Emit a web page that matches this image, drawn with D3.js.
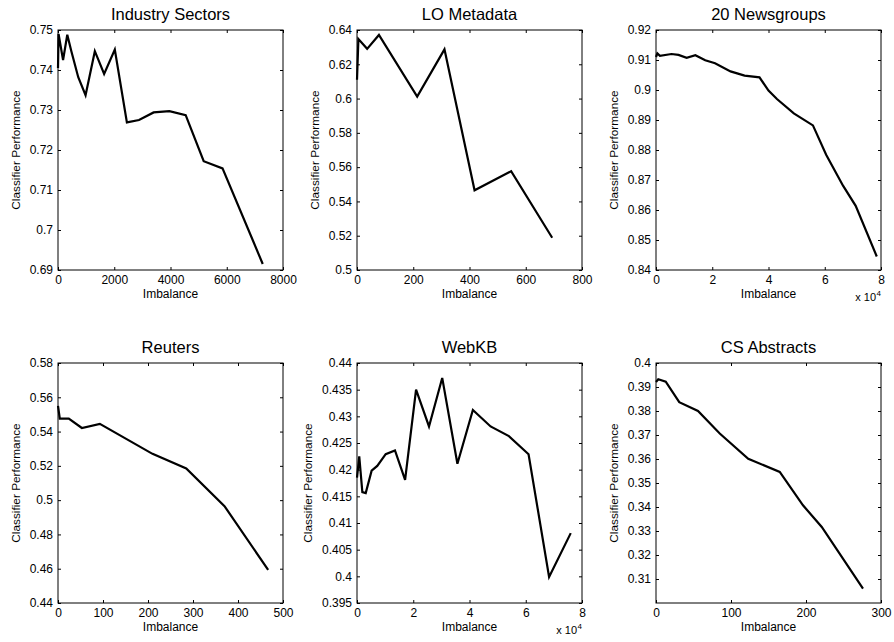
<!DOCTYPE html>
<html>
<head>
<meta charset="utf-8">
<script src="https://cdn.jsdelivr.net/npm/d3@7"></script>
<style>
  body { margin: 0; background: #fff; }
  svg text { font-family: "Liberation Sans", Arial, Helvetica, sans-serif; fill: #000; }
</style>
</head>
<body>
<svg id="chart" width="894" height="642"></svg>
<script>
// ---- data ----
const industryX = [0, 20, 180, 330, 470, 720, 980, 1310, 1640, 2020, 2450, 2880, 3400, 3960, 4540, 5180, 5850, 7280];
const industryY = [0.7405, 0.7490, 0.7425, 0.7488, 0.7448, 0.7382, 0.7337, 0.7447, 0.7390, 0.7451, 0.7269, 0.7275, 0.7294, 0.7297, 0.7287, 0.7172, 0.7154, 0.6915];

const loX = [0, 5, 36, 78, 214, 311, 418, 548, 694];
const loY = [0.611, 0.6347, 0.6290, 0.6371, 0.6012, 0.6287, 0.5465, 0.5576, 0.5188];

const newsX = [0, 500, 1400, 5500, 8000, 10900, 14000, 17500, 21000, 26500, 31500, 36800, 40000, 43000, 49000, 55800, 60500, 66500, 71000, 78500];
const newsY = [0.9110, 0.9122, 0.9114, 0.9120, 0.9117, 0.9107, 0.9116, 0.9099, 0.9089, 0.9062, 0.9048, 0.9042, 0.8998, 0.8970, 0.8922, 0.8882, 0.8784, 0.8681, 0.8614, 0.8445];

const reutersX = [0, 4, 24, 53, 93, 210, 285, 370, 467];
const reutersY = [0.555, 0.5475, 0.5475, 0.5421, 0.5445, 0.5270, 0.5185, 0.4965, 0.4593];

const webkbX = [0, 800, 1900, 3100, 5200, 7200, 10200, 13500, 17100, 21000, 25600, 30300, 35700, 41200, 47500, 54000, 61000, 68300, 76000];
const webkbY = [0.4185, 0.4225, 0.4158, 0.4156, 0.4198, 0.4207, 0.4229, 0.4236, 0.4181, 0.4350, 0.4281, 0.4372, 0.4211, 0.4312, 0.4281, 0.4263, 0.4229, 0.3999, 0.4081];

const csX = [0, 3, 13, 31, 56, 85, 123, 165, 196, 221, 276];
const csY = [0.3921, 0.3932, 0.3922, 0.3837, 0.3800, 0.3706, 0.3601, 0.3546, 0.3407, 0.3317, 0.3060];

// ---- ticks ----
const industryXTicks = [0, 2000, 4000, 6000, 8000];
const industryYTicks = [0.69, 0.70, 0.71, 0.72, 0.73, 0.74, 0.75];
const industryYLabels = ["0.69", "0.7", "0.71", "0.72", "0.73", "0.74", "0.75"];

const loXTicks = [0, 200, 400, 600, 800];
const loYTicks = [0.50, 0.52, 0.54, 0.56, 0.58, 0.60, 0.62, 0.64];
const loYLabels = ["0.5", "0.52", "0.54", "0.56", "0.58", "0.6", "0.62", "0.64"];

const newsXTicks = [0, 20000, 40000, 60000, 80000];
const newsXLabels = ["0", "2", "4", "6", "8"];
const newsYTicks = [0.84, 0.85, 0.86, 0.87, 0.88, 0.89, 0.90, 0.91, 0.92];
const newsYLabels = ["0.84", "0.85", "0.86", "0.87", "0.88", "0.89", "0.9", "0.91", "0.92"];

const reutersXTicks = [0, 100, 200, 300, 400, 500];
const reutersYTicks = [0.44, 0.46, 0.48, 0.50, 0.52, 0.54, 0.56, 0.58];
const reutersYLabels = ["0.44", "0.46", "0.48", "0.5", "0.52", "0.54", "0.56", "0.58"];

const webkbXTicks = [0, 20000, 40000, 60000, 80000];
const webkbXLabels = ["0", "2", "4", "6", "8"];
const webkbYTicks = [0.395, 0.400, 0.405, 0.410, 0.415, 0.420, 0.425, 0.430, 0.435, 0.440];
const webkbYLabels = ["0.395", "0.4", "0.405", "0.41", "0.415", "0.42", "0.425", "0.43", "0.435", "0.44"];

const csXTicks = [0, 100, 200, 300];
const csYTicks = [0.31, 0.32, 0.33, 0.34, 0.35, 0.36, 0.37, 0.38, 0.39, 0.40];
const csYLabels = ["0.31", "0.32", "0.33", "0.34", "0.35", "0.36", "0.37", "0.38", "0.39", "0.4"];

const panels = [
  { title: "Industry Sectors", xs: industryX, ys: industryY, xDomain: [0, 8000], yDomain: [0.69, 0.75],
    xTicks: industryXTicks, xLabels: industryXTicks.map(String), yTicks: industryYTicks, yLabels: industryYLabels },
  { title: "LO Metadata", xs: loX, ys: loY, xDomain: [0, 800], yDomain: [0.5, 0.64],
    xTicks: loXTicks, xLabels: loXTicks.map(String), yTicks: loYTicks, yLabels: loYLabels },
  { title: "20 Newsgroups", xs: newsX, ys: newsY, xDomain: [0, 80000], yDomain: [0.84, 0.92],
    xTicks: newsXTicks, xLabels: newsXLabels, yTicks: newsYTicks, yLabels: newsYLabels, exp: true },
  { title: "Reuters", xs: reutersX, ys: reutersY, xDomain: [0, 500], yDomain: [0.44, 0.58],
    xTicks: reutersXTicks, xLabels: reutersXTicks.map(String), yTicks: reutersYTicks, yLabels: reutersYLabels },
  { title: "WebKB", xs: webkbX, ys: webkbY, xDomain: [0, 80000], yDomain: [0.395, 0.44],
    xTicks: webkbXTicks, xLabels: webkbXLabels, yTicks: webkbYTicks, yLabels: webkbYLabels, exp: true },
  { title: "CS Abstracts", xs: csX, ys: csY, xDomain: [0, 300], yDomain: [0.3, 0.4],
    xTicks: csXTicks, xLabels: csXTicks.map(String), yTicks: csYTicks, yLabels: csYLabels }
];

// ---- layout ----
const colLeft = [58, 357, 656];
const rowTop = [30, 363];
const W = 225, H = 240;
const tickLen = 3;

const svg = d3.select("#chart");

function styleAxis(sel, size) {
  sel.select(".domain").remove();
  sel.attr("font-family", null).attr("font-size", null);
  sel.selectAll("line").attr("stroke", "#000");
  sel.selectAll("text").style("font-size", size + "px");
}

panels.forEach((p, i) => {
  const left = colLeft[i % 3];
  const top = rowTop[Math.floor(i / 3)];
  const g = svg.append("g").attr("transform", `translate(${left},${top})`);

  const x = d3.scaleLinear().domain(p.xDomain).range([0, W]);
  const y = d3.scaleLinear().domain(p.yDomain).range([H, 0]);

  // bottom + left axes with labels, inward ticks
  g.append("g").attr("transform", `translate(0,${H})`)
    .call(d3.axisBottom(x).tickValues(p.xTicks).tickFormat((d, k) => p.xLabels[k])
      .tickSizeInner(-tickLen).tickSizeOuter(0).tickPadding(5))
    .call(s => styleAxis(s, 12));

  const yAxis = g.append("g")
    .call(d3.axisLeft(y).tickValues(p.yTicks).tickFormat((d, k) => p.yLabels[k])
      .tickSizeInner(-tickLen).tickSizeOuter(0).tickPadding(5))
    .call(s => styleAxis(s, 12));

  // top + right ticks only
  g.append("g")
    .call(d3.axisTop(x).tickValues(p.xTicks).tickFormat("").tickSizeInner(-tickLen).tickSizeOuter(0))
    .call(s => styleAxis(s, 12));
  g.append("g").attr("transform", `translate(${W},0)`)
    .call(d3.axisRight(y).tickValues(p.yTicks).tickFormat("").tickSizeInner(-tickLen).tickSizeOuter(0))
    .call(s => styleAxis(s, 12));

  // box
  g.append("rect").attr("x", 0).attr("y", 0).attr("width", W).attr("height", H)
    .attr("fill", "none").attr("stroke", "#000").attr("stroke-width", 1);

  // series
  const line = d3.line().x(k => x(p.xs[k])).y(k => y(p.ys[k]));
  g.append("path").datum(d3.range(p.xs.length)).attr("d", line)
    .attr("fill", "none").attr("stroke", "#000").attr("stroke-width", 2.2)
    .attr("stroke-linejoin", "miter").attr("stroke-miterlimit", 4);

  // title
  g.append("text").attr("x", W / 2).attr("y", -10).attr("text-anchor", "middle")
    .style("font-size", "16.5px").text(p.title);

  // x label
  g.append("text").attr("x", W / 2).attr("y", H + 28).attr("text-anchor", "middle")
    .style("font-size", "12px").text("Imbalance");

  // y label, placed left of the widest tick label
  let minX = 0;
  yAxis.selectAll("text").each(function () {
    const b = this.getBBox();
    minX = Math.min(minX, b.x - 5);
  });
  g.append("text").attr("transform", `translate(${minX - 4.5},${H / 2}) rotate(-90)`)
    .attr("text-anchor", "middle").style("font-size", "11.8px").text("Classifier Performance");

  if (p.exp) {
    g.append("text").attr("x", W - 5).attr("y", H + 31).attr("text-anchor", "end")
      .style("font-size", "11px").text("x 10");
    g.append("text").attr("x", W - 4.5).attr("y", H + 25.5).attr("text-anchor", "start")
      .style("font-size", "8px").text("4");
  }
});
</script>
</body>
</html>
